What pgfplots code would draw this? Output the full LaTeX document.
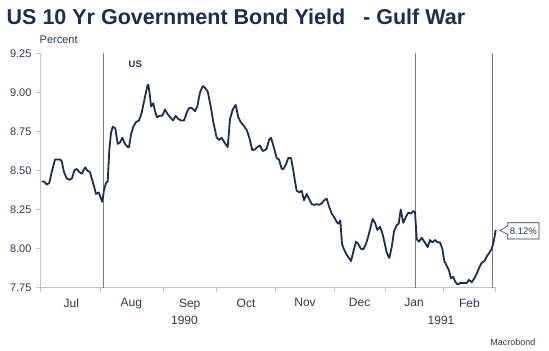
\documentclass[border=0pt]{standalone}
\usepackage{pgfplots}
\pgfplotsset{compat=1.18}
\usepackage{fontspec}
\setmainfont{Liberation Sans}
\definecolor{navy}{RGB}{30,45,82}
\definecolor{txt}{RGB}{45,55,80}
\definecolor{axgray}{RGB}{195,195,195}
\definecolor{evgray}{RGB}{128,128,128}

\begin{document}
\begin{tikzpicture}[x=1bp,y=1bp]
\useasboundingbox (0,0) rectangle (549,350);
\node[anchor=base west, inner sep=0, text=navy, font=\fontsize{21.5bp}{24bp}\selectfont\bfseries] at (6.5,326) {US 10 Yr Government Bond Yield\hspace{18bp}- Gulf War};
\node[anchor=west, inner sep=0, text=txt, font=\fontsize{11bp}{13bp}\selectfont] at (39.5,310) {Percent};
\begin{axis}[
  at={(40.5bp,62.3bp)}, anchor=south west, scale only axis,
  width=455.5bp, height=234.4bp,
  xmin=40.5, xmax=496, ymin=7.75, ymax=9.25,
  axis x line*=bottom, axis y line*=left,
  axis line style={-, draw=axgray, line width=1bp},
  tick align=outside, major tick length=4bp, minor tick length=4bp,
  tick style={draw=axgray, line width=0.8bp},
  major x tick style={draw=none},
  xtick={71.4,131.3,189.7,246,305,359.6,414,469.4},
  xticklabels={Jul,Aug,Sep,Oct,Nov,Dec,Jan,Feb},
  minor xtick={40.5,100.8,163.5,216,275.8,334.3,385,443.5,495.3},
  ytick={7.75,8,8.25,8.5,8.75,9,9.25},
  /pgf/number format/assume math mode=true,
  yticklabel style={/pgf/number format/fixed, /pgf/number format/fixed zerofill, /pgf/number format/precision=2, font=\fontsize{11bp}{13bp}\selectfont, xshift=-1.5bp},
  ticklabel style={text=txt},
  xticklabel style={font=\fontsize{12bp}{14bp}\selectfont, yshift=-3.5bp},
  clip=false,
]
\addplot[evgray, line width=1bp] coordinates {(103,7.75) (103,9.25)};
\addplot[evgray, line width=1bp] coordinates {(415.3,7.75) (415.3,9.25)};
\addplot[evgray, line width=1bp] coordinates {(492.7,7.75) (492.7,9.25)};
\addplot[navy, line width=1.8bp, line join=round] coordinates {
(41.7,8.43) (44,8.43) (46.7,8.41) (49.3,8.42) (51.7,8.49) (55,8.57) (60,8.57) (61.7,8.56)
(64,8.49) (66.7,8.45) (70,8.44) (72,8.45) (74.3,8.50) (76.7,8.51) (79.3,8.49) (82,8.48)
(83.3,8.50) (85.3,8.52) (87.3,8.50) (90,8.49) (91.7,8.45) (94,8.40) (96,8.35) (98.7,8.36)
(101,8.32) (102.3,8.30) (104,8.375) (106,8.42) (107.7,8.43) (109.3,8.63) (111,8.74) (112.7,8.78)
(115.3,8.77) (117.7,8.67) (120,8.68) (122.3,8.71) (125,8.67) (127.7,8.65) (129,8.65) (131,8.73)
(133.3,8.78) (136,8.81) (139,8.82) (141.7,8.87) (144.3,8.95) (147.3,9.04) (148.3,9.05) (149.7,8.99)
(151,8.91) (153.3,8.93) (155,8.88) (157,8.84) (159.3,8.85) (162.3,8.85) (165,8.89) (167.7,8.86)
(170.3,8.84) (173,8.82) (175.7,8.85) (178.3,8.83) (181,8.82) (184,8.82) (186.7,8.87) (189,8.90)
(191.7,8.90) (195,8.88) (197.3,8.91) (200,9.00) (202.7,9.04) (205,9.03) (207.7,9.005) (210.7,8.91)
(213.3,8.81) (216.7,8.71) (219.3,8.695) (221.7,8.71) (224.3,8.68) (227.7,8.65) (230,8.83) (232.7,8.89)
(235.7,8.92) (238.3,8.84) (240.7,8.81) (243.3,8.79) (246.7,8.76) (249.3,8.71) (252.3,8.63) (255,8.635)
(257.3,8.65) (260,8.66) (262.7,8.625) (265,8.63) (266.7,8.64) (269,8.695) (271,8.71) (273.3,8.66)
(275,8.62) (276.7,8.58) (279,8.57) (281.7,8.51) (283.3,8.51) (285.7,8.535) (288.3,8.58) (291,8.58)
(293.3,8.50) (295,8.43) (296.7,8.37) (299.3,8.36) (301.7,8.37) (304,8.31) (306.7,8.35) (309,8.32)
(311.7,8.285) (314.3,8.28) (316.7,8.285) (319,8.28) (321.7,8.29) (324.3,8.31) (326.7,8.32) (329,8.27)
(331.7,8.225) (334.3,8.20) (336.7,8.17) (338.3,8.16) (340.3,8.18) (342,8.03) (344,7.995) (346.7,7.96)
(349,7.94) (351,7.92) (353.3,7.98) (356,8.045) (358.3,8.03) (360.7,8.00) (363.3,7.995) (366,8.03)
(368.3,8.08) (370.7,8.14) (372.7,8.19) (375,8.165) (377.3,8.12) (380,8.14) (382.3,8.10) (384.3,8.045)
(386.7,7.975) (389.3,7.94) (391.7,8.01) (394,8.11) (396.7,8.15) (398.7,8.16) (400.7,8.25) (403.3,8.165)
(406,8.205) (408.3,8.23) (411,8.225) (413.3,8.24) (415,8.235) (416.7,8.06) (419,8.045) (421.7,8.07)
(424.3,8.045) (427.7,8.01) (430,8.055) (432.3,8.04) (435,8.055) (437.7,8.04) (440,8.04) (442.3,8.00)
(444.3,7.92) (446.7,7.89) (449,7.86) (451,7.81) (453.3,7.82) (455,7.79) (457.7,7.77) (460,7.78)
(463.3,7.78) (466.7,7.78) (469,7.80) (471.7,7.785) (474.3,7.81) (476.7,7.84) (479,7.875) (481.7,7.91)
(484.3,7.92) (486.7,7.95) (489,7.97) (491.7,8.00) (493.7,8.045) (495.7,8.12)
};
\node[font=\fontsize{9.5bp}{11bp}\selectfont\bfseries, text=navy] at (axis cs:135.3,9.178) {US};
\end{axis}
\draw[txt, line width=0.6bp, fill=white] (507.7,127.3) -- (539,127.3) -- (539,111) -- (507.7,111) -- (507.7,115.7) -- (500,119.5) -- (507.7,124) -- cycle;
\node[font=\fontsize{9.5bp}{11bp}\selectfont, text=txt, inner sep=0] at (523.3,119.2) {8.12\%};
\node[font=\fontsize{12bp}{14bp}\selectfont, text=txt] at (184.5,30) {1990};
\node[font=\fontsize{12bp}{14bp}\selectfont, text=txt] at (441,30) {1991};
\node[anchor=east, inner sep=0, font=\fontsize{9bp}{11bp}\selectfont, text=txt] at (535.5,8) {Macrobond};
\end{tikzpicture}
\end{document}
